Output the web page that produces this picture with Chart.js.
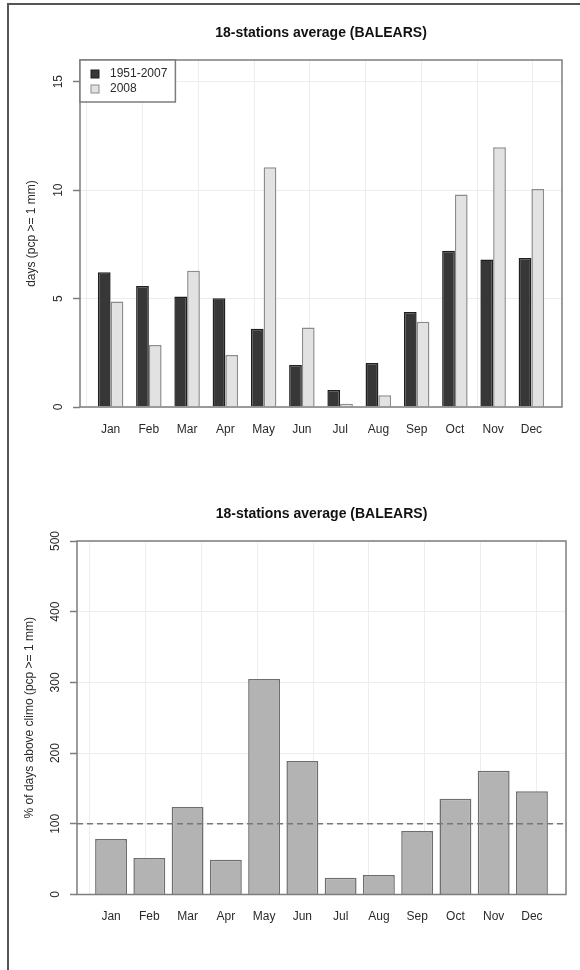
<!DOCTYPE html>
<html>
<head>
<meta charset="utf-8">
<script src="https://cdn.jsdelivr.net/npm/chart.js@4.4.0/dist/chart.umd.min.js"></script>
<style>
  body { margin: 0; background: #fff; overflow: hidden; }
  #frame { position: absolute; left: 7px; top: 3px; width: 571px; height: 967px;
           border-left: 2px solid #555; border-top: 2px solid #555; }
  #top { position: absolute; left: 0; top: 0; }
  #bottom { position: absolute; left: 0; top: 470px; }
</style>
</head>
<body>
<div id="frame"></div>
<canvas id="top" width="580" height="447"></canvas>
<canvas id="bottom" width="580" height="500"></canvas>
<script>
var months = ["Jan", "Feb", "Mar", "Apr", "May", "Jun", "Jul", "Aug", "Sep", "Oct", "Nov", "Dec"];
// mean days with pcp >= 1 mm
var clim = [6.21, 5.58, 5.10, 5.01, 3.61, 1.94, 0.78, 2.03, 4.38, 7.20, 6.80, 6.87];
var days2008 = [4.87, 2.86, 6.28, 2.40, 11.05, 3.66, 0.15, 0.54, 3.93, 9.80, 11.98, 10.05];
// 2008 as % of climo
var pctAbove = [78.5, 51.6, 123.8, 49.3, 304.8, 188.8, 23.8, 27.6, 89.8, 135.5, 175.1, 146.0];
var daysTicks = [0, 5, 10, 15];
var pctTicks = [0, 100, 200, 300, 400, 500];
var climoRef = 100;
var seriesNames = ["1951-2007", "2008"];
var chartTitle = "18-stations average (BALEARS)";

var font = '"Liberation Sans", Arial, Helvetica, sans-serif';
Chart.defaults.font.family = font;
Chart.defaults.color = "#2a2a2a";

function points(vals) {
  return months.map(function(m, i) { return { x: i, y: vals[i] }; });
}

// box round the plot + rotated y tick labels (like R's axis(2))
var rBox = {
  id: "rbox",
  afterDraw: function(chart) {
    var a = chart.chartArea, ctx = chart.ctx, ys = chart.scales.y;
    ctx.save();
    ctx.strokeStyle = "#7d7d7d";
    ctx.lineWidth = 1.5;
    ctx.strokeRect(a.left, a.top, a.right - a.left, a.bottom - a.top);
    ctx.fillStyle = "#2a2a2a";
    ctx.font = "12px " + font;
    ctx.textAlign = "center";
    ctx.textBaseline = "middle";
    ys.ticks.forEach(function(t) {
      ctx.save();
      ctx.translate(a.left - 21, ys.getPixelForValue(t.value));
      ctx.rotate(-Math.PI / 2);
      ctx.fillText(String(t.value), 0, 0);
      ctx.restore();
    });
    ctx.restore();
  }
};

var rLegend = {
  id: "rlegend",
  afterDraw: function(chart) {
    var a = chart.chartArea, ctx = chart.ctx, ds = chart.data.datasets;
    ctx.save();
    ctx.font = "12px " + font;
    var tw = 0;
    ds.forEach(function(d) { tw = Math.max(tw, ctx.measureText(d.label).width); });
    var w = tw + 38, h = 42;
    ctx.fillStyle = "#fff";
    ctx.fillRect(a.left, a.top, w, h);
    ctx.strokeStyle = "#7d7d7d";
    ctx.lineWidth = 1.5;
    ctx.strokeRect(a.left, a.top, w, h);
    ds.forEach(function(d, i) {
      var y = a.top + 14 + i * 15;
      ctx.fillStyle = d.backgroundColor;
      ctx.fillRect(a.left + 11, y - 4, 8, 8);
      ctx.strokeStyle = d.borderColor;
      ctx.lineWidth = 1;
      ctx.strokeRect(a.left + 11, y - 4, 8, 8);
      ctx.fillStyle = "#2a2a2a";
      ctx.textAlign = "left";
      ctx.textBaseline = "middle";
      ctx.fillText(d.label, a.left + 30, y);
    });
    ctx.restore();
  }
};

var climoLine = {
  id: "climoline",
  afterDatasetsDraw: function(chart) {
    var a = chart.chartArea, ctx = chart.ctx;
    var y = chart.scales.y.getPixelForValue(climoRef);
    ctx.save();
    ctx.strokeStyle = "#777";
    ctx.lineWidth = 1.5;
    ctx.setLineDash([6, 4]);
    ctx.beginPath();
    ctx.moveTo(a.left, y);
    ctx.lineTo(a.right, y);
    ctx.stroke();
    ctx.restore();
  }
};

function makeOptions(o) {
  // o.xr = month-index range, o.toR = month index -> R bar coords, o.gridStep in R coords
  return {
    responsive: false,
    animation: false,
    layout: { padding: { left: 0, right: o.padRight, top: 0, bottom: 0 } },
    plugins: {
      legend: { display: false },
      tooltip: { enabled: false },
      title: {
        display: true, text: chartTitle, fullSize: false, color: "#111",
        font: { size: 14, weight: "bold" },
        padding: { top: o.titleTop, bottom: o.titleBottom }
      }
    },
    scales: {
      x: {
        type: "linear", min: o.xr[0], max: o.xr[1], offset: false, weight: 1,
        afterBuildTicks: function(s) { s.ticks = months.map(function(m, i) { return { value: i }; }); },
        afterFit: function(s) { s.height = o.xHeight; },
        ticks: {
          autoSkip: false, maxRotation: 0, padding: o.labelPad, font: { size: 12 },
          callback: function(v) { return months[v]; }
        },
        grid: { display: false, drawTicks: false, offset: false },
        border: { display: false }
      },
      xg: {
        type: "linear", position: "bottom", weight: 0,
        min: o.toR(o.xr[0]), max: o.toR(o.xr[1]),
        afterFit: function(s) { s.height = 0; },
        ticks: { display: false, stepSize: o.gridStep, includeBounds: false },
        grid: { color: "#ededed", borderDash: [1, 2], drawTicks: false },
        border: { display: false }
      },
      y: {
        min: 0, max: o.yMax,
        afterBuildTicks: function(s) { s.ticks = o.yTicks.map(function(v) { return { value: v }; }); },
        afterFit: function(s) { s.width = o.yWidth; },
        ticks: { display: false },
        grid: {
          color: "#ededed", borderDash: [1, 2], tickColor: "#7d7d7d",
          tickLength: 7, tickWidth: 1.5, tickBorderDash: []
        },
        border: { display: false },
        title: {
          display: true, text: o.yTitle, color: "#2a2a2a",
          font: { size: 12 }, padding: { top: o.yTitlePad, bottom: 0 }
        }
      }
    }
  };
}

new Chart(document.getElementById("top"), {
  type: "bar",
  data: {
    datasets: [
      { label: seriesNames[0], data: points(clim), backgroundColor: "#373737",
        borderColor: "#1f1f1f", borderWidth: 1.5, categoryPercentage: 2 / 3, barPercentage: 1 },
      { label: seriesNames[1], data: points(days2008), backgroundColor: "#e2e2e2",
        borderColor: "#8c8c8c", borderWidth: 1.5, categoryPercentage: 2 / 3, barPercentage: 1 }
    ]
  },
  options: makeOptions({
    xr: [-0.8, 11.8], toR: function(m) { return 3 * m + 2; }, gridStep: 5,
    padRight: 18, titleTop: 24.6, titleBottom: 18.6, xHeight: 40, labelPad: 15.8,
    yMax: 16, yTicks: daysTicks, yWidth: 80, yTitle: "days (pcp >= 1 mm)", yTitlePad: 24
  }),
  plugins: [rBox, rLegend]
});

new Chart(document.getElementById("bottom"), {
  type: "bar",
  data: {
    datasets: [
      { label: "% of climo", data: points(pctAbove), backgroundColor: "#b3b3b3",
        borderColor: "#6e6e6e", borderWidth: 1.5, categoryPercentage: 1 / 1.2, barPercentage: 1 }
    ]
  },
  options: makeOptions({
    xr: [-0.89, 11.89], toR: function(m) { return 1.2 * m + 0.7; }, gridStep: 2,
    padRight: 14, titleTop: 35.5, titleBottom: 18.7, xHeight: 75.5, labelPad: 15.3,
    yMax: 500, yTicks: pctTicks, yWidth: 77, yTitle: "% of days above climo (pcp >= 1 mm)", yTitlePad: 22
  }),
  plugins: [rBox, climoLine]
});
</script>
</body>
</html>
